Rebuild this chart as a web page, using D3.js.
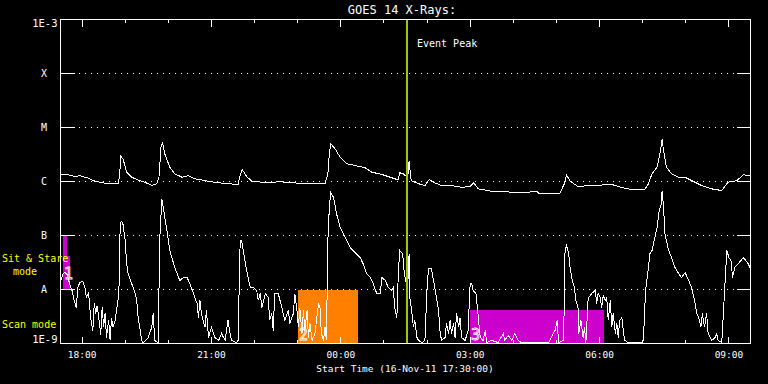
<!DOCTYPE html>
<html><head><meta charset="utf-8">
<script src="https://cdn.jsdelivr.net/npm/d3@7"></script>
<style>html,body{margin:0;padding:0;background:#000;}svg{display:block;}</style>
</head><body>
<svg id="chart" width="768" height="384"></svg>
<script>
// minutes after start (16-Nov-11 17:30:00)
const longTimes = [1,11,20,27,34,39,48,62,80,82,84,87,92,99,108,118,127,134,137,140,
142,145,152,159,169,178,187,201,215,233,247,250,253,259,266,280,298,303,312,331,
345,368,372,374,376,382,389,398,410,424,433,447,461,470,472,477,483,485,488,498,
507,513,519,530,544,558,570,575,581,600,614,632,646,663,665,695,701,704,709,720,
737,767,785,799,813,818,823,830,834,837,839,843,850,860,869,878,892,906,920,925,
929,941,950,959];
const longFlux = [1.36e-6,1.33e-6,1.24e-6,1.28e-6,1.20e-6,1.15e-6,1.01e-6,9.3e-7,9.1e-7,1.20e-6,
2.90e-6,2.63e-6,1.49e-6,1.20e-6,1.07e-6,9.6e-7,8.5e-7,9.1e-7,1.20e-6,4.64e-6,
5.12e-6,3.26e-6,1.84e-6,1.39e-6,1.20e-6,1.28e-6,1.12e-6,1.04e-6,9.6e-7,9.1e-7,
8.8e-7,1.33e-6,1.65e-6,1.24e-6,1.01e-6,9.7e-7,9.6e-7,1.01e-6,9.7e-7,9.3e-7,
9.1e-7,9.1e-7,1.39e-6,3.26e-6,4.99e-6,4.04e-6,2.82e-6,2.13e-6,1.98e-6,1.79e-6,
1.49e-6,1.35e-6,1.17e-6,1.07e-6,1.45e-6,1.39e-6,1.17e-6,2.38e-6,1.04e-6,9.1e-7,
8.4e-7,1.09e-6,9.7e-7,8.4e-7,8.4e-7,7.8e-7,8.1e-7,9.5e-7,7.3e-7,6.6e-7,
6.5e-7,6.3e-7,6.3e-7,6.5e-7,6.1e-7,6.1e-7,9.1e-7,1.33e-6,1.01e-6,8.1e-7,
8.4e-7,8.8e-7,7.5e-7,7.0e-7,7.1e-7,9.1e-7,1.39e-6,1.84e-6,3.26e-6,6.0e-6,
3.75e-6,1.84e-6,1.39e-6,1.20e-6,1.20e-6,1.04e-6,8.4e-7,7.3e-7,6.8e-7,8.4e-7,
9.7e-7,1.04e-6,1.33e-6,1.29e-6];

const shortTimes = [1,3,6,9,13,16,19,22,24,27,
31,34,36,39,42,45,47,49,51,54,
56,58,60,62,64,67,69,71,73,76,
78,80,82,83,85,87,90,92,94,99,
104,106,108,111,113,115,118,122,127,129,
131,136,138,141,143,148,152,159,166,171,
176,180,185,190,192,194,196,201,203,206,
210,215,220,224,229,233,236,238,245,247,
250,252,256,259,264,268,273,275,278,280,
285,289,291,294,296,298,303,308,312,317,
319,324,326,329,331,333,336,338,340,343,
345,347,350,354,359,361,363,366,368,370,
372,374,376,380,384,389,396,403,410,417,
421,426,431,435,440,445,447,452,456,461,
463,465,468,470,472,476,478,480,483,485,
486,489,491,493,496,498,503,507,510,512,
516,519,523,526,528,530,535,537,540,542,
544,547,549,551,554,556,558,563,567,570,
572,574,578,580,584,588,591,593,600,609,
616,618,623,628,632,637,641,679,688,691,
693,700,702,704,707,709,712,715,717,720,
721,724,727,729,731,734,735,739,744,746,
748,751,753,755,758,760,762,765,767,769,
772,774,776,778,781,783,785,790,809,811,
814,818,820,823,826,830,833,836,837,839,
841,845,850,855,860,864,869,874,878,883,
885,888,891,893,896,899,901,906,911,913,
915,920,924,927,930,933,935,938,943,950,
957,959];
const shortFlux = [1.53e-8,1.90e-8,2.06e-8,1.90e-8,1.24e-8,9.6e-9,6.3e-9,4.6e-9,1.09e-8,1.35e-8,
1.41e-8,1.09e-8,7.1e-9,8.8e-9,2.9e-9,1.74e-9,5.7e-9,3.6e-9,5.0e-9,2.45e-9,
1.47e-9,4.8e-9,2.0e-9,3.6e-9,1.29e-9,2.7e-9,1.14e-9,3.0e-9,2.0e-9,2.7e-9,
4.1e-9,6.3e-9,1.47e-8,1.74e-7,1.82e-7,1.60e-7,8.1e-8,3.0e-8,1.98e-8,1.29e-8,
8.4e-9,6.3e-9,3.0e-9,1.74e-9,1.14e-9,1.04e-9,1.14e-9,1.29e-9,2.0e-9,3.6e-9,
1.14e-9,1.04e-9,8.1e-8,4.8e-7,3.3e-7,1.24e-7,5.3e-8,2.55e-8,1.47e-8,1.67e-8,
1.67e-8,1.29e-8,8.4e-9,5.5e-9,3.0e-9,6.3e-9,3.6e-9,2.0e-9,4.1e-9,1.29e-9,
2.0e-9,1.29e-9,1.14e-9,1.53e-9,1.14e-9,2.7e-9,1.53e-9,1.14e-9,1.04e-9,1.14e-9,
8.1e-8,8.1e-8,3.9e-8,2.25e-8,1.09e-8,1.09e-8,9.6e-9,6.3e-9,8.4e-9,4.6e-9,
8.4e-9,7.1e-9,2.7e-9,3.6e-9,1.74e-9,8.4e-9,8.4e-9,4.6e-9,2.7e-9,4.1e-9,
2.35e-9,3.6e-9,8.4e-9,4.1e-9,2.0e-9,4.6e-9,1.53e-9,4.1e-9,1.74e-9,4.1e-9,
1.29e-9,2.35e-9,1.14e-9,1.53e-9,5.5e-9,4.6e-9,1.53e-9,1.14e-9,2.0e-9,1.14e-9,
8.1e-8,3.3e-7,6.3e-7,5.0e-7,2.55e-7,1.41e-7,9.2e-8,6.0e-8,4.8e-8,3.9e-8,
3.0e-8,1.98e-8,1.67e-8,1.29e-8,8.4e-9,8.4e-9,1.67e-8,1.47e-8,1.09e-8,9.6e-9,
1.09e-8,4.6e-9,3.0e-9,1.98e-8,5.3e-8,4.6e-8,2.25e-8,1.47e-8,1.09e-8,4.6e-8,
7.1e-9,3.6e-9,2.0e-9,2.7e-9,1.29e-9,1.14e-9,1.04e-9,1.14e-9,1.09e-8,2.45e-8,
2.45e-8,1.47e-8,7.1e-9,4.1e-9,1.74e-9,1.14e-9,1.29e-9,2.35e-9,1.53e-9,2.7e-9,
1.53e-9,2.35e-9,1.29e-9,3.6e-9,2.0e-9,3.0e-9,1.29e-9,1.14e-9,1.74e-9,1.29e-8,
1.29e-8,9.6e-9,8.4e-9,4.6e-9,1.29e-9,1.14e-9,1.74e-9,1.04e-9,1.14e-9,1.04e-9,
1.53e-9,1.14e-9,1.4e-9,1.14e-9,1.53e-9,1.14e-9,1.04e-9,1.04e-9,1.74e-9,2.7e-9,
1.04e-9,1.14e-9,5.3e-8,6.5e-8,4.6e-8,2.55e-8,1.47e-8,1.09e-8,6.3e-9,4.6e-9,
1.53e-9,2.7e-9,1.29e-9,2.0e-9,1.04e-9,6.3e-9,7.1e-9,8.4e-9,9.6e-9,5.5e-9,
8.4e-9,7.1e-9,4.6e-9,7.7e-9,6.3e-9,7.1e-9,2.7e-9,6.3e-9,2.0e-9,3.6e-9,
1.53e-9,2.35e-9,1.29e-9,2.7e-9,3.0e-9,1.74e-9,1.14e-9,1.04e-9,1.04e-9,1.14e-9,
9.6e-9,2.55e-8,4.6e-8,5.3e-8,8.1e-8,1.41e-7,2.9e-7,3.9e-7,6.8e-7,3.3e-7,
1.09e-7,6.0e-8,3.9e-8,2.55e-8,1.98e-8,1.67e-8,2.06e-8,1.47e-8,1.09e-8,5.5e-9,
3.6e-9,3.0e-9,2.0e-9,3.6e-9,2.0e-9,3.6e-9,1.53e-9,1.14e-9,1.29e-9,1.53e-9,
1.14e-9,1.04e-9,9.6e-9,5.3e-8,3.9e-8,3.4e-8,1.67e-8,2.55e-8,3.0e-8,3.9e-8,
3.0e-8,2.55e-8];

const hourTicks = [30,90,150,210,270,330,390,450,510,570,630,690,750,810,870,930];
const timeLabelMinutes = [30,210,390,570,750,930];
const timeLabels = ["18:00","21:00","00:00","03:00","06:00","09:00"];
const levelFlux = [1e-8,1e-7,1e-6,1e-5,1e-4];
const levelNames = ["A","B","C","M","X"];
const eventPeakMinute = 482;
// observation boxes
const boxStart = [3,3,330,570];
const boxEnd = [9,13,414,756];
const boxLow = [1e-8,1e-8,1e-9,1e-9];
const boxHigh = [1e-7,4.1e-8,1e-8,4.1e-9];
const boxLabels = ["","1","2","3"];
const boxKinds = ["sit","sit","scanA","scanB"];

const svg = d3.select("#chart");
svg.append("rect").attr("width",768).attr("height",384).attr("fill","#000");

const x = d3.scaleLinear().domain([0,960]).range([60.5,750.5]);
const y = d3.scaleLog().domain([1e-9,1e-3]).range([343.5,19.5]).clamp(true);

const mono = "'DejaVu Sans Mono', 'Liberation Mono', monospace";

// dotted level lines
levelFlux.forEach(f=>{
  svg.append("line").attr("x1",60.5).attr("x2",750.5)
    .attr("y1",Math.floor(y(f))+0.5).attr("y2",Math.floor(y(f))+0.5)
    .attr("stroke","#fff").attr("stroke-width",1)
    .attr("stroke-dasharray","1,5").attr("shape-rendering","crispEdges");
});

// boxes
const boxColor = {sit:"#cc00cc", scanA:"#ff8000", scanB:"#cc00cc"};
boxStart.forEach((s,i)=>{
  const x0 = Math.round(x(s)), x1 = Math.round(x(boxEnd[i]));
  const y0 = Math.round(y(boxHigh[i])), y1 = Math.round(y(boxLow[i]));
  svg.append("rect").attr("x",x0).attr("y",y0).attr("width",x1-x0).attr("height",y1-y0)
    .attr("fill",boxColor[boxKinds[i]]).attr("shape-rendering","crispEdges");
});
boxStart.forEach((s,i)=>{
  if(!boxLabels[i]) return;
  const x0 = Math.round(x(s));
  const yb = Math.round(y(boxLow[i]));
  svg.append("text").attr("x",x0+1).attr("y", i===1 ? yb-11 : yb-4)
    .attr("fill","none").attr("stroke","#fff").attr("stroke-width",0.8)
    .attr("font-family",mono).attr("font-size",15).text(boxLabels[i]);
});

// curves
const line = d3.line().x(d=>x(d[0])).y(d=>y(d[1]));
const longData = d3.zip(longTimes,longFlux);
const shortData = d3.zip(shortTimes,shortFlux);
[longData, shortData].forEach(data=>{
  svg.append("path").attr("d",line(data)).attr("fill","none")
    .attr("stroke","#fff").attr("stroke-width",1).attr("shape-rendering","crispEdges");
});

// event peak
svg.append("line").attr("x1",x(eventPeakMinute)).attr("x2",x(eventPeakMinute))
  .attr("y1",19.5).attr("y2",343.5).attr("stroke","#99cc00").attr("stroke-width",2)
  .attr("shape-rendering","crispEdges");
svg.append("text").attr("x",417).attr("y",47).attr("fill","#fff")
  .attr("font-family",mono).attr("font-size",10).text("Event Peak");

// frame
svg.append("rect").attr("x",60.5).attr("y",19.5).attr("width",690).attr("height",324)
  .attr("fill","none").attr("stroke","#fff").attr("stroke-width",1).attr("shape-rendering","crispEdges");

// level ticks left/right
levelFlux.forEach(f=>{
  const yy = Math.floor(y(f))+0.5;
  svg.append("line").attr("x1",60.5).attr("x2",74.5).attr("y1",yy).attr("y2",yy)
    .attr("stroke","#fff").attr("shape-rendering","crispEdges");
  svg.append("line").attr("x1",736.5).attr("x2",750.5).attr("y1",yy).attr("y2",yy)
    .attr("stroke","#fff").attr("shape-rendering","crispEdges");
});
// time ticks top/bottom
hourTicks.forEach(t=>{
  const major = timeLabelMinutes.includes(t);
  const xx = Math.floor(x(t))+0.5;
  const len = major ? 7 : 3.5;
  svg.append("line").attr("x1",xx).attr("x2",xx).attr("y1",19.5).attr("y2",19.5+len)
    .attr("stroke","#fff").attr("shape-rendering","crispEdges");
  svg.append("line").attr("x1",xx).attr("x2",xx).attr("y1",343.5).attr("y2",343.5-len)
    .attr("stroke","#fff").attr("shape-rendering","crispEdges");
});

// y labels
levelFlux.forEach((f,i)=>{
  svg.append("text").attr("x",44).attr("y",y(f)+3.5).attr("text-anchor","middle")
    .attr("fill","#fff").attr("font-family",mono).attr("font-size",10).text(levelNames[i]);
});
svg.append("text").attr("x",57.5).attr("y",27).attr("text-anchor","end")
  .attr("fill","#fff").attr("font-family",mono).attr("font-size",10.5).text("1E-3");
svg.append("text").attr("x",57.5).attr("y",343).attr("text-anchor","end")
  .attr("fill","#fff").attr("font-family",mono).attr("font-size",10.5).text("1E-9");

// x labels
timeLabelMinutes.forEach((t,i)=>{
  svg.append("text").attr("x",x(t)).attr("y",358).attr("text-anchor","middle")
    .attr("fill","#fff").attr("font-family",mono).attr("font-size",9.5).text(timeLabels[i]);
});
svg.append("text").attr("x",405).attr("y",372).attr("text-anchor","middle")
  .attr("fill","#fff").attr("font-family",mono).attr("font-size",9.5)
  .text("Start Time (16-Nov-11 17:30:00)");

// title
svg.append("text").attr("x",402).attr("y",14).attr("text-anchor","middle")
  .attr("fill","#fff").attr("font-family",mono).attr("font-size",12).text("GOES 14 X-Rays:");

// mode labels
svg.append("text").attr("x",2).attr("y",262).attr("fill","#ffff00")
  .attr("font-family",mono).attr("font-size",10).text("Sit & Stare");
svg.append("text").attr("x",13).attr("y",275).attr("fill","#ffff00")
  .attr("font-family",mono).attr("font-size",10).text("mode");
svg.append("text").attr("x",2).attr("y",328).attr("fill","#ffff00")
  .attr("font-family",mono).attr("font-size",10).text("Scan mode");
</script>
</body></html>
